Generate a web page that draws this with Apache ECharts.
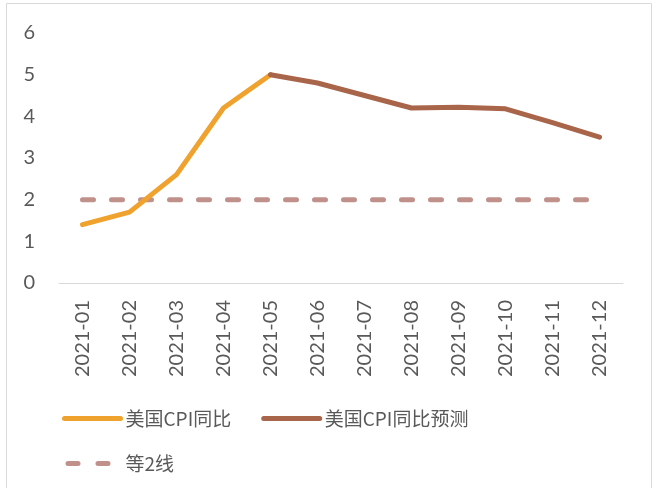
<!DOCTYPE html>
<html lang="zh-CN">
<head>
    <meta charset="UTF-8">
    <title>美国CPI同比</title>
    <script src="https://cdn.jsdelivr.net/npm/echarts@6/dist/echarts.min.js"></script>
    <style>
        body { margin: 0; background: #fff; }
        #chart { width: 670px; height: 488px; }
    </style>
</head>
<body>
    <div id="chart"></div>
    <script>
        // 数据
        const months = ['2021-01', '2021-02', '2021-03', '2021-04', '2021-05', '2021-06',
                        '2021-07', '2021-08', '2021-09', '2021-10', '2021-11', '2021-12'];
        const cpiActual = [1.4, 1.7, 2.6, 4.2, 5.0, null, null, null, null, null, null, null];
        const cpiForecast = [null, null, null, null, 5.0, 4.8, 4.5, 4.2, 4.22, 4.18, 3.85, 3.5];
        const line2 = [2, 2, 2, 2, 2, 2, 2, 2, 2, 2, 2, 2];
        const yTicks = [0, 6, 1];

        const chart = echarts.init(document.getElementById('chart'));
        const textColor = '#595959';
        const latin = 'Lato, "Noto Sans CJK SC", sans-serif';
        const cjk = '"Noto Sans CJK SC", sans-serif';

        chart.setOption({
            animation: false,
            graphic: [{
                type: 'rect',
                shape: { x: 6.5, y: 3.5, width: 645, height: 500 },
                style: { fill: 'none', stroke: '#d9d9d9', lineWidth: 1 }
            }],
            grid: { left: 59, right: 47, top: 33, bottom: 205 },
            legend: [
                {
                    data: ['美国CPI同比', '美国CPI同比预测'],
                    left: 57, top: 404,
                    itemWidth: 56, itemHeight: 12, itemGap: 30,
                    itemStyle: { opacity: 0 },
                    lineStyle: { width: 5, cap: 'round' },
                    textStyle: { color: textColor, fontSize: 19, fontFamily: cjk }
                },
                {
                    data: ['等2线'],
                    left: 57, top: 449,
                    itemWidth: 56, itemHeight: 12,
                    itemStyle: { opacity: 0 },
                    lineStyle: { width: 5, type: [10, 20], dashOffset: -3.5, cap: 'round' },
                    textStyle: { color: textColor, fontSize: 19, fontFamily: cjk }
                }
            ],
            xAxis: {
                type: 'category',
                data: months,
                boundaryGap: true,
                axisLine: { lineStyle: { color: '#d9d9d9', width: 1 } },
                axisTick: { show: false },
                axisLabel: {
                    rotate: 90, interval: 0, margin: 17,
                    color: textColor, fontSize: 20, fontFamily: latin
                },
                splitLine: { show: false }
            },
            yAxis: {
                type: 'value',
                min: yTicks[0], max: yTicks[1], interval: yTicks[2],
                axisLine: { show: false },
                axisTick: { show: false },
                axisLabel: { margin: 24, color: textColor, fontSize: 20, fontFamily: latin },
                splitLine: { show: false }
            },
            series: [
                {
                    name: '美国CPI同比',
                    type: 'line',
                    data: cpiActual,
                    symbol: 'none',
                    color: '#f0a22e',
                    lineStyle: { color: '#f0a22e', width: 5, cap: 'round', join: 'round' },
                    z: 3
                },
                {
                    name: '美国CPI同比预测',
                    type: 'line',
                    data: cpiForecast,
                    symbol: 'none',
                    color: '#a9654a',
                    lineStyle: { color: '#a9654a', width: 5, cap: 'round', join: 'round' },
                    z: 4
                },
                {
                    name: '等2线',
                    type: 'line',
                    data: line2,
                    symbol: 'none',
                    color: '#c0918a',
                    lineStyle: { color: '#c0918a', width: 5, type: [11, 18], cap: 'round' },
                    z: 2
                }
            ]
        });
    </script>
</body>
</html>
